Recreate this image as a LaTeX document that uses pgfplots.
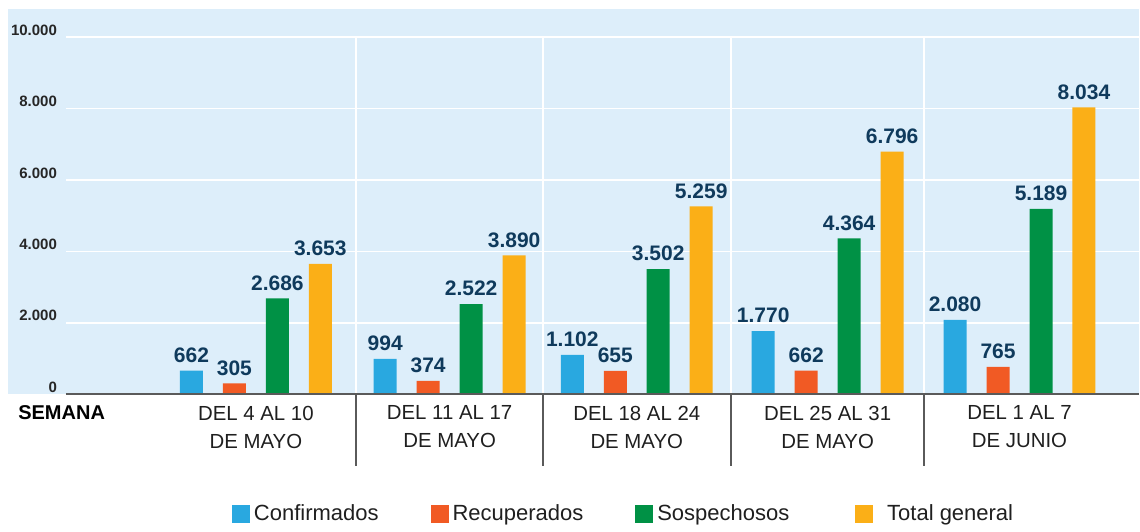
\documentclass[border=0pt]{standalone}
\usepackage{fontspec}
\setmainfont{Liberation Sans}
\usepackage{pgfplots}
\pgfplotsset{compat=1.18}
\definecolor{cBlue}{HTML}{29A8E0}
\definecolor{cRed}{HTML}{F15A24}
\definecolor{cGreen}{HTML}{009145}
\definecolor{cYellow}{HTML}{FBAF17}
\definecolor{bgBlue}{HTML}{DDEEFA}
\definecolor{navy}{HTML}{0F3A5C}
\definecolor{sepGray}{HTML}{5A5A5A}
\begin{document}
\begin{tikzpicture}
\begin{axis}[
  set layers,
  width=537pt, height=193pt, scale only axis,
  xmin=0, xmax=5.65, ymin=0, ymax=10800,
  clip=false,
  axis line style={draw=none},
  tick style={draw=none},
  axis background/.style={fill=bgBlue},
  ymajorgrids, grid style={white, line width=0.8pt},
  ytick={0,2000,4000,6000,8000,10000},
  scaled y ticks=false,
  yticklabel style={font=\fontsize{7.5}{9}\selectfont\bfseries, text=black!85, anchor=east, yshift=3.5pt, xshift=-1pt},
  xtick={1,2.02,3.005,4.01,5.02},
  xticklabels={{DEL 4 AL 10\\DE MAYO},{DEL 11 AL 17\\DE MAYO},{DEL 18 AL 24\\DE MAYO},{DEL 25 AL 31\\DE MAYO},{DEL 1 AL 7\\DE JUNIO}},
  xticklabel style={font=\fontsize{10.2}{14}\selectfont, text=black!88, align=center, anchor=north, yshift=2pt},
  ybar=10pt, bar width=11.5pt,
  nodes near coords,
  every node near coord/.append style={font=\fontsize{10.5}{12}\selectfont\bfseries, text=navy, anchor=south, yshift=0.5pt},
  /pgf/number format/1000 sep={.},
  /pgf/number format/assume math mode=true,
  legend columns=4,
  legend style={at={(0.5205,-0.311)}, anchor=center, draw=none, fill=none,
    font=\fontsize{11}{13}\selectfont, text=black!88,
    /tikz/every even column/.append style={column sep=24pt},
    legend cell align=left},
  legend image code/.code={\fill[#1] (0pt,-4.5pt) rectangle (9pt,4.5pt);},
]
% invisible bounding frame
\path (axis cs:-0.347,10996) rectangle (axis cs:5.65,-3749);
% background extension to the left
\begin{pgfonlayer}{axis background}
\fill[bgBlue] (axis cs:-0.305,0) rectangle (axis cs:0,10800);
\end{pgfonlayer}
% vertical separators
\pgfplotsinvokeforeach{1.526,2.51,3.5,4.516}{
  \draw[white, line width=0.8pt] (axis cs:#1,0) -- (axis cs:#1,10000);
  \draw[sepGray, line width=0.8pt] (axis cs:#1,0) -- (axis cs:#1,-2010);
}
\addplot[fill=cBlue, draw=none] coordinates {(1,662) (2.02,994) (3.005,1102) (4.01,1770) (5.02,2080)};
\addplot[fill=cRed, draw=none] coordinates {(1,305) (2.02,374) (3.005,655) (4.01,662) (5.02,765)};
\addplot[fill=cGreen, draw=none] coordinates {(1,2686) (2.02,2522) (3.005,3502) (4.01,4364) (5.02,5189)};
\addplot[fill=cYellow, draw=none] coordinates {(1,3653) (2.02,3890) (3.005,5259) (4.01,6796) (5.02,8034)};
\legend{Confirmados, Recuperados, Sospechosos\hspace*{7pt}, \hspace*{5pt}Total general}
\draw[sepGray, line width=0.8pt] (axis cs:0,0) -- (axis cs:5.65,0);
\node[anchor=base west, font=\fontsize{10}{12}\selectfont\bfseries, text=black, inner sep=0pt] at (axis cs:-0.2526,-700) {SEMANA};
\end{axis}
\end{tikzpicture}
\end{document}
